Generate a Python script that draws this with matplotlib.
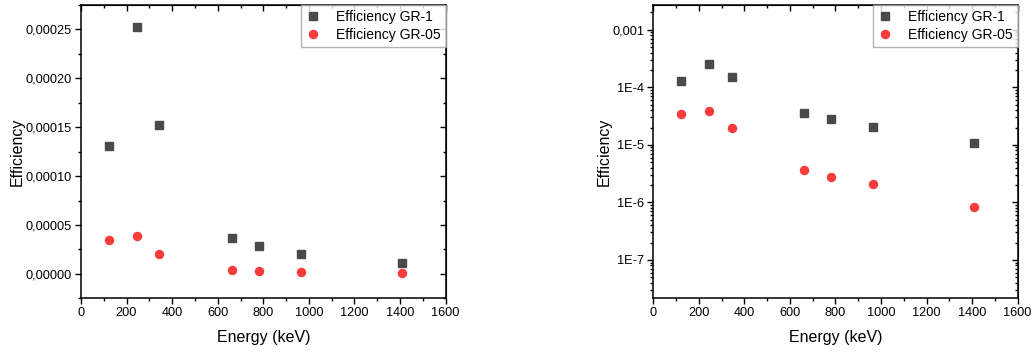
import matplotlib
matplotlib.use("Agg")
import matplotlib.pyplot as plt
from matplotlib.ticker import MultipleLocator, FuncFormatter, LogLocator, NullFormatter
import numpy as np

plt.rcParams['font.family'] = ['Liberation Sans', 'DejaVu Sans']

energy = [122, 245, 344, 662, 779, 964, 1408]
eff_gr1 = [1.31e-4, 2.53e-4, 1.52e-4, 3.64e-5, 2.85e-5, 2.03e-5, 1.09e-5]
eff_gr05 = [3.43e-5, 3.87e-5, 1.99e-5, 3.72e-6, 2.77e-6, 2.10e-6, 8.4e-7]
label_gr1 = "Efficiency GR-1"
label_gr05 = "Efficiency GR-05"
xlabel = "Energy (keV)"
ylabel = "Efficiency"

c_gray = '#4a4a4a'
c_red = '#f83c3c'

fig = plt.figure(figsize=(10.34, 3.52), dpi=100)
ax1 = fig.add_axes([0.0783, 0.1526, 0.3527, 0.8332])
ax2 = fig.add_axes([0.6318, 0.1526, 0.3524, 0.8332])


def style(ax):
    ax.plot(energy, eff_gr1, linestyle='none', marker='s', ms=5.4, color=c_gray, label=label_gr1)
    ax.plot(energy, eff_gr05, linestyle='none', marker='o', ms=5.8, color=c_red, label=label_gr05)
    ax.set_xlim(0, 1600)
    ax.xaxis.set_major_locator(MultipleLocator(200))
    ax.xaxis.set_minor_locator(MultipleLocator(100))
    ax.set_xlabel(xlabel, fontsize=11.5, labelpad=8)
    ax.set_ylabel(ylabel, fontsize=11.5, labelpad=0.5)
    for s in ax.spines.values():
        s.set_linewidth(1.1)
    ax.tick_params(which='major', length=4.5, width=1.0, labelsize=9.2, direction='out', pad=2)
    ax.tick_params(which='minor', length=2.5, width=1.0, direction='out')
    axt = ax.secondary_xaxis('top')
    axt.set_xticks(ax.get_xticks())
    axt.xaxis.set_minor_locator(MultipleLocator(100))
    axt.tick_params(which='major', direction='in', length=4.5, width=1.0, labelsize=0)
    axt.tick_params(which='minor', direction='in', length=2.5, width=1.0)
    axt.set_xticklabels([])
    leg = ax.legend(loc='upper right', bbox_to_anchor=(1.0, 1.0), borderaxespad=0,
                    fontsize=10, frameon=True, fancybox=False, handlelength=1.0,
                    handletextpad=1.2, borderpad=0.35, labelspacing=0.3, markerscale=1.0)
    leg.get_frame().set_edgecolor('#a0a0a0')
    leg.get_frame().set_linewidth(1.0)
    return axt


style(ax1)
ax1.set_ylim(-2.5e-5, 2.75e-4)
ax1.yaxis.set_major_locator(MultipleLocator(5e-5))
ax1.yaxis.set_minor_locator(MultipleLocator(2.5e-5))
ax1.yaxis.set_major_formatter(FuncFormatter(lambda v, p: ('%.5f' % abs(v) if abs(v) < 1e-12 else '%.5f' % v).replace('.', ',')))
ax1r = ax1.secondary_yaxis('right')
ax1r.yaxis.set_major_locator(MultipleLocator(5e-5))
ax1r.yaxis.set_minor_locator(MultipleLocator(2.5e-5))
ax1r.tick_params(which='major', direction='in', length=4.5, width=1.0)
ax1r.tick_params(which='minor', direction='in', length=2.5, width=1.0)
ax1r.yaxis.set_major_formatter(NullFormatter())

style(ax2)
ax2.set_yscale('log')
ax2.set_ylim(2.15e-8, 2.7e-3)


def logfmt(v, p):
    e = int(round(np.log10(v)))
    if e == -3:
        return '0,001'
    return '1E%d' % e


ax2.yaxis.set_major_locator(LogLocator(base=10, numticks=20))
ax2.yaxis.set_minor_locator(LogLocator(base=10, subs=np.arange(2, 10), numticks=20))
ax2.yaxis.set_major_formatter(FuncFormatter(logfmt))
ax2.yaxis.set_minor_formatter(NullFormatter())
ax2r = ax2.secondary_yaxis('right')
ax2r.set_yscale('log')
ax2r.yaxis.set_major_locator(LogLocator(base=10, numticks=20))
ax2r.yaxis.set_minor_locator(LogLocator(base=10, subs=np.arange(2, 10), numticks=20))
ax2r.tick_params(which='major', direction='in', length=4.5, width=1.0)
ax2r.tick_params(which='minor', direction='in', length=2.5, width=1.0)
ax2r.yaxis.set_major_formatter(NullFormatter())
ax2r.yaxis.set_minor_formatter(NullFormatter())
ax2.tick_params(axis='y', which='minor', length=2.5)

fig.savefig('out.png', dpi=100)
